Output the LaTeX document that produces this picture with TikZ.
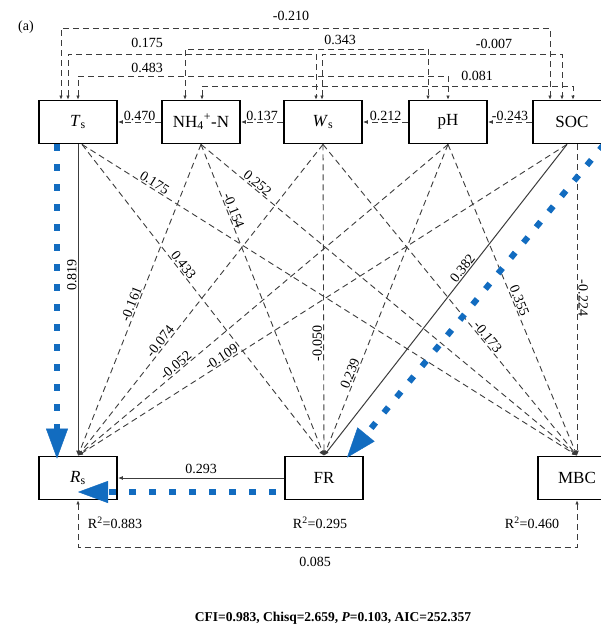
\documentclass[tikz,border=0pt]{standalone}
\usepackage{fontspec}
\setmainfont{Liberation Serif}
\usetikzlibrary{arrows.meta,positioning,calc}
\definecolor{semBlue}{RGB}{18,108,192}
\definecolor{semGrey}{RGB}{60,60,60}
\newcommand{\rsq}[1]{R\textsuperscript{2}=#1}

\begin{document}
\begin{tikzpicture}[x=1pt, y=-1pt,
    var/.style={rectangle, draw=black, line width=1.8pt, minimum width=78pt,
                minimum height=43pt, inner sep=0pt, font=\fontsize{17}{17}\selectfont},
    lab/.style={font=\fontsize{14}{14}\selectfont, inner sep=1pt},
    note/.style={font=\fontsize{14}{14}\selectfont, inner sep=0pt},
    dpath/.style={draw=semGrey, line width=0.9pt, dash pattern=on 6pt off 4pt,
                  -{Latex[length=5pt,width=4pt]}},
    spath/.style={draw=semGrey, line width=1pt, -{Latex[length=5pt,width=4pt]}},
    corr/.style={draw=semGrey, line width=0.9pt, dash pattern=on 6pt off 4pt,
                 {Latex[length=4pt,width=3.5pt]}-{Latex[length=4pt,width=3.5pt]}},
    bpath/.style={draw=semBlue, line width=6pt, dash pattern=on 7pt off 13pt,
                  -{Triangle[length=30pt,width=22pt,line width=0.4pt]}}
  ]
  \fill[white] (0,0) rectangle (601,631);
  \useasboundingbox (0,0) rectangle (601,631);

  % variables
  \node[var] (Ts)  at (78,122)  {\textit{T}\textsubscript{s}};
  \node[var] (NH)  at (201,122) {NH\textsubscript{4}\textsuperscript{+}-N};
  \node[var] (Ws)  at (323,122) {\textit{W}\textsubscript{s}};
  \node[var] (pH)  at (448,122) {pH};
  \node[var] (SOC) at (572,122) {SOC};
  \node[var] (Rs)  at (78,478)  {\textit{R}\textsubscript{s}};
  \node[var] (FR)  at (324,478) {FR};
  \node[var] (MBC) at (577,478) {MBC};

  \node[note, font=\fontsize{14}{14}\selectfont] (tag) at (26,27) {(a)};

  % correlations among the upper row
  \draw[corr] ([xshift=-17pt]Ts.north) -- ++(0,-71.5) -| ([xshift=-22pt]SOC.north);
  \draw[corr] ([xshift=-16pt]NH.north) -- ++(0,-50.5) -| ([xshift=-20pt]pH.north);
  \draw[corr] ([xshift=-10pt]Ts.north) -- ++(0,-45.5) -| ([xshift=-7pt]Ws.north);
  \draw[corr] ([xshift=-1pt]Ws.north) -- ++(0,-45.5) -| ([xshift=-10pt]SOC.north);
  \draw[corr] (Ts.north) -- ++(0,-23.5) -| (pH.north);
  \draw[corr] ([xshift=1pt]NH.north) -- ++(0,-13.5) -| ([xshift=1pt]SOC.north);
  \node[lab] (c1) at (291,16) {-0.210};
  \node[lab] (c2) at (340,40) {0.343};
  \node[lab] (c3) at (147,43) {0.175};
  \node[lab] (c4) at (494,44) {-0.007};
  \node[lab] (c5) at (147,68) {0.483};
  \node[lab] (c6) at (477,76) {0.081};

  % neighbours in the upper row
  \draw[dpath] (NH.west)  -- node[lab, above] (h1) {0.470} (Ts.east);
  \draw[dpath] (Ws.west)  -- node[lab, above] (h2) {0.137} (NH.east);
  \draw[dpath] (pH.west)  -- node[lab, above] (h3) {0.212} (Ws.east);
  \draw[dpath] (SOC.west) -- node[lab, above] (h4) {-0.243} (pH.east);

  % paths to the lower row
  \draw[spath] (Ts.south) -- node[lab, pos=0.42, rotate=90, above] (p1) {0.819} (Rs.north);
  \draw[dpath] ([xshift=4pt]Ts.south) -- node[lab, pos=0.40, sloped, above] (p2) {0.433} (FR.north);
  \draw[dpath] ([xshift=4pt]Ts.south) -- node[lab, pos=0.14, sloped, above] (p3) {0.175} (MBC.north);
  \draw[dpath] (NH.south) -- node[lab, pos=0.52, sloped, above] (p4) {-0.161} (Rs.north);
  \draw[dpath] (NH.south) -- node[lab, pos=0.22, sloped, above] (p5) {-0.154} (FR.north);
  \draw[dpath] (NH.south) -- node[lab, pos=0.14, sloped, above] (p6) {0.252} (MBC.north);
  \draw[dpath] (Ws.south) -- node[lab, pos=0.645, sloped, above] (p7) {-0.074} (Rs.north);
  \draw[dpath] (Ws.south) -- node[lab, pos=0.64, rotate=90, above] (p8) {-0.050} (FR.north);
  \draw[dpath] (Ws.south) -- node[lab, pos=0.63, sloped, above] (p9) {-0.173} (MBC.north);
  \draw[dpath] (pH.south) -- node[lab, pos=0.725, sloped, above] (p10) {-0.052} (Rs.north);
  \draw[dpath] (pH.south) -- node[lab, pos=0.744, sloped, above] (p11) {0.239} (FR.north);
  \draw[dpath] (pH.south) -- node[lab, pos=0.51, sloped, above] (p12) {0.355} (MBC.north);
  \draw[dpath] ([xshift=-5pt]SOC.south) -- node[lab, pos=0.70, sloped, above] (p13) {-0.109} (Rs.north);
  \draw[spath] ([xshift=-5pt]SOC.south) -- node[lab, pos=0.41, sloped, above] (p14) {0.382} (FR.north);
  \draw[dpath] (SOC.south -| MBC.north) -- node[lab, pos=0.5, rotate=-90, above=2pt] (p15) {-0.224} (MBC.north);
  \draw[spath] (FR.west) -- node[lab, above=3pt] (p16) {0.293} (Rs.east);

  % lower correlation
  \draw[corr] (Rs.south) -- ++(0,47) -| (MBC.south);
  \node[lab] (c7) at (315,562) {0.085};

  % significant route
  \draw[bpath] ([xshift=-21pt]Ts.south) -- ([xshift=-21pt,yshift=-3pt]Rs.north);
  \draw[bpath] ([xshift=-8pt,yshift=-14pt]FR.west) -- ([yshift=-14pt]Rs.center);
  \draw[bpath] ([xshift=32pt]SOC.south) -- ([xshift=23pt,yshift=-2pt]FR.north);

  \node[note] (r1) at (115,523) {\rsq{0.883}};
  \node[note] (r2) at (320,523) {\rsq{0.295}};
  \node[note] (r3) at (532,523) {\rsq{0.460}};

  \node[note, font=\bfseries\fontsize{13.5}{13.5}\selectfont] (fit) at (333,618)
    {CFI=0.983, Chisq=2.659, \textit{P}=0.103, AIC=252.357};
\end{tikzpicture}
\end{document}
